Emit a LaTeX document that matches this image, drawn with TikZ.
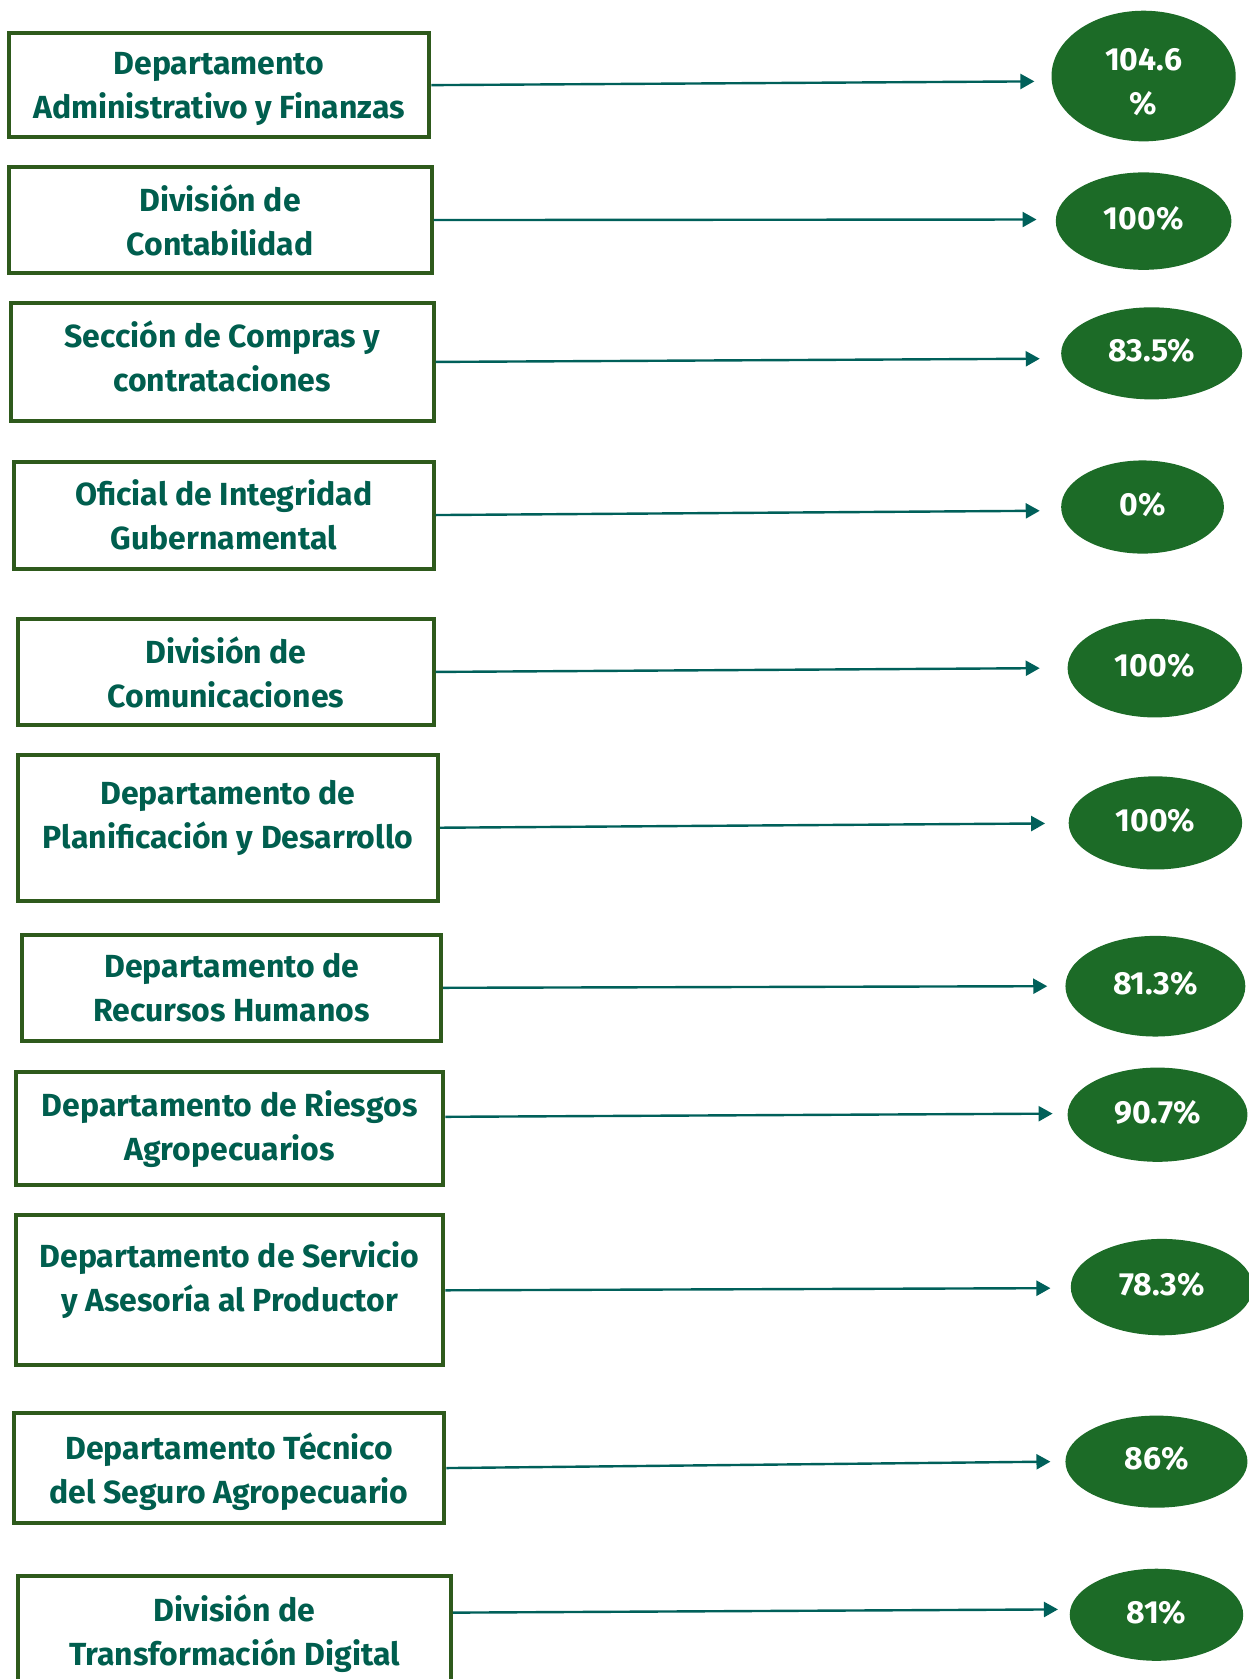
\documentclass[tikz,border=0pt]{standalone}
\usepackage{fontspec}
\setmainfont{Fira Sans}
\usepackage{tikz}
\usetikzlibrary{arrows.meta,shapes.geometric}
\definecolor{boxgreen}{HTML}{2E5A1C}
\definecolor{textteal}{HTML}{005E4E}
\definecolor{ovalgreen}{HTML}{1C6B27}
\definecolor{arrowteal}{HTML}{00605A}

\begin{document}
\begin{tikzpicture}[x=0.5356pt, y=-0.5356pt,
    sz/.style 2 args={minimum width=#1*0.5356pt, minimum height=#2*0.5356pt},
    dept/.style={rectangle, draw=boxgreen, line width=2pt, align=center, inner sep=0pt,
        text=textteal, text depth=0.2pt, font=\fontsize{16}{22}\selectfont\bfseries},
    pct/.style={ellipse, fill=ovalgreen, align=center, inner sep=0pt,
        text=white, text depth=3.2pt, font=\fontsize{16}{22}\selectfont\bfseries},
    link/.style={draw=arrowteal, line width=1.2pt, -{Triangle[length=7pt,width=7.5pt]}}]
    \useasboundingbox (0,0) rectangle (1166,1568);

    \node[dept, sz={393}{97}] (d1) at (204.5,79.5) {Departamento\\Administrativo y Finanzas};
    \node[dept, sz={395}{99}] (d2) at (205.5,205.5) {División de\\Contabilidad};
    \node[dept, sz={395}{110}, text depth=6.1pt] (d3) at (207.5,338) {Sección de Compras y\\contrataciones};
    \node[dept, sz={392}{100}] (d4) at (209,481) {Oficial de Integridad\\Gubernamental};
    \node[dept, sz={388}{99}] (d5) at (211,627.5) {División de\\Comunicaciones};
    \node[dept, sz={392}{136}, text depth=13.1pt] (d6) at (213,773) {Departamento de\\Planificación y Desarrollo};
    \node[dept, sz={391}{99}] (d7) at (216.5,922.5) {Departamento de\\Recursos Humanos};
    \node[dept, sz={399}{106}, text depth=3.4pt] (d8) at (214.5,1054) {Departamento de Riesgos\\Agropecuarios};
    \node[dept, sz={399}{140}, text depth=13.6pt] (d9) at (214.5,1205) {Departamento de Servicio\\y Asesoría al Productor};
    \node[dept, sz={402}{102}] (d10) at (214,1371) {Departamento Técnico\\del Seguro Agropecuario};
    \node[dept, sz={404}{102}] (d11) at (219,1523) {División de\\Transformación Digital};

    \node[pct, sz={172}{122}, text depth=0pt] (p1) at (1068,71) {\rule{0pt}{16.5pt}104.6\\\%};
    \node[pct, sz={164}{91}] (p2) at (1068,206.5) {100\%};
    \node[pct, sz={169}{86}] (p3) at (1075.5,330) {83.5\%};
    \node[pct, sz={152}{87}] (p4) at (1067,473.5) {0\%};
    \node[pct, sz={163}{92}] (p5) at (1078.5,624) {100\%};
    \node[pct, sz={162}{87}] (p6) at (1079,768.5) {100\%};
    \node[pct, sz={168}{94}] (p7) at (1079,921) {81.3\%};
    \node[pct, sz={168}{88}] (p8) at (1081,1041) {90.7\%};
    \node[pct, sz={170}{90}] (p9) at (1085,1202) {78.3\%};
    \node[pct, sz={170}{86}] (p10) at (1080,1365) {86\%};
    \node[pct, sz={162}{86}] (p11) at (1080,1508) {81\%};

    \coordinate (t1) at (966,76);
    \coordinate (t2) at (968,205);
    \coordinate (t3) at (971,335);
    \coordinate (t4) at (971,477);
    \coordinate (t5) at (971,624);
    \coordinate (t6) at (976,769);
    \coordinate (t7) at (978,921);
    \coordinate (t8) at (983,1040);
    \coordinate (t9) at (981,1203);
    \coordinate (t10) at (981,1365);
    \coordinate (t11) at (988,1503);

    \draw[link] (d1.east) -- (t1);
    \draw[link] (d2.east) -- (t2);
    \draw[link] (d3.east) -- (t3);
    \draw[link] (d4.east) -- (t4);
    \draw[link] (d5.east) -- (t5);
    \draw[link] (d6.east) -- (t6);
    \draw[link] (d7.east) -- (t7);
    \draw[link] ([yshift=5.9pt]d8.east) -- (t8);
    \draw[link] (d9.east) -- (t9);
    \draw[link] (d10.east) -- (t10);
    \draw[link] ([yshift=9.1pt]d11.east) -- (t11);
\end{tikzpicture}
\end{document}
